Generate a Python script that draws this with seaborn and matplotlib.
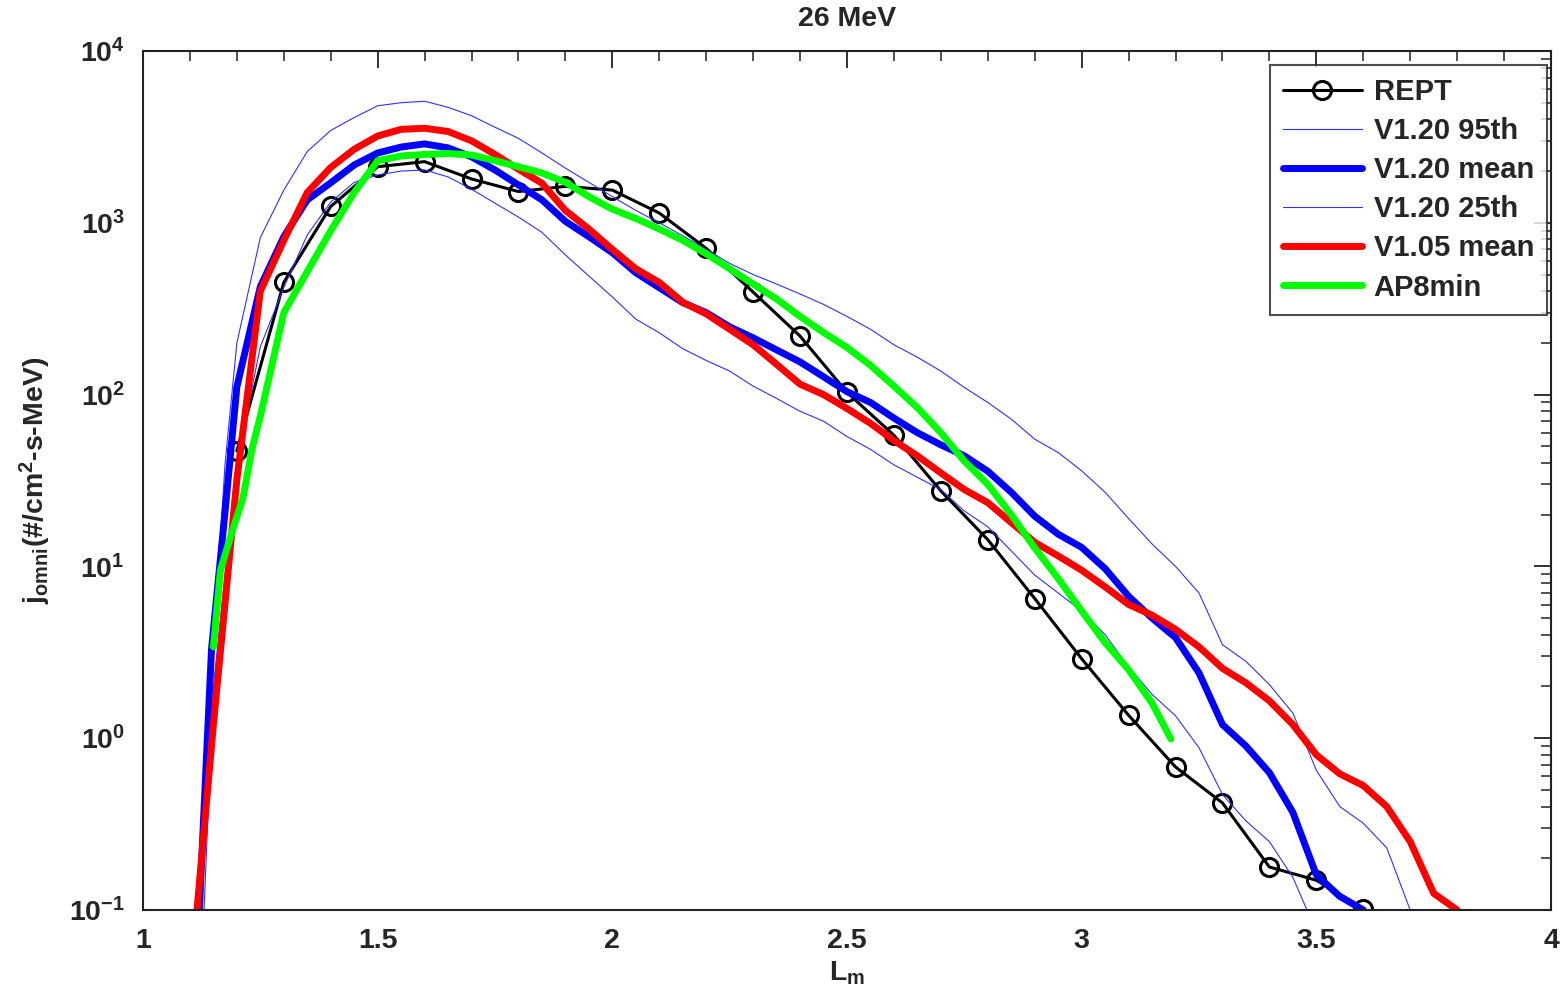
import numpy as np
import seaborn as sns
import matplotlib.pyplot as plt
from matplotlib.ticker import MultipleLocator, LogLocator, FixedLocator, FixedFormatter, NullFormatter, FuncFormatter

# REPT measurements
rept_L = [1.2, 1.3, 1.4, 1.5, 1.6, 1.7, 1.8, 1.9, 2.0, 2.1, 2.2, 2.3, 2.4,
          2.5, 2.6, 2.7, 2.8, 2.9, 3.0, 3.1, 3.2, 3.3, 3.4, 3.5, 3.6]
rept_j = [47, 450, 1245, 2120, 2270, 1800, 1520, 1630, 1550, 1140, 710, 395, 219,
          103, 58, 27.5, 14.3, 6.5, 2.9, 1.36, 0.68, 0.42, 0.178, 0.149, 0.102]

# V1.20 95th percentile
p95_L = [1.115, 1.15, 1.175, 1.2, 1.25, 1.3, 1.35, 1.4, 1.45, 1.5, 1.55, 1.6, 1.65,
         1.7, 1.75, 1.8, 1.85, 1.9, 1.95, 2.0, 2.05, 2.1, 2.15, 2.2, 2.25, 2.3,
         2.35, 2.4, 2.45, 2.5, 2.55, 2.6, 2.65, 2.7, 2.75, 2.8, 2.85, 2.9, 2.95,
         3.0, 3.05, 3.1, 3.15, 3.2, 3.25, 3.3, 3.35, 3.4, 3.45, 3.5, 3.55, 3.6,
         3.65, 3.7]
p95_j = [0.1, 3.5, 40, 200, 820, 1550, 2600, 3450, 4100, 4800, 5000, 5100, 4700,
         4200, 3600, 3100, 2550, 2080, 1720, 1420, 1180, 1000, 840, 700, 580, 500,
         440, 385, 335, 285, 240, 195, 165, 137, 110, 90, 72, 55, 46,
         36, 27, 19, 13.5, 10, 7.0, 3.5, 2.8, 2.05, 1.4, 0.65, 0.4, 0.32,
         0.23, 0.1]

# V1.20 mean
mean120_L = [1.12, 1.146, 1.177, 1.2, 1.25, 1.3, 1.35, 1.4, 1.45, 1.5, 1.55, 1.6, 1.65,
             1.7, 1.75, 1.8, 1.85, 1.9, 1.95, 2.0, 2.05, 2.1, 2.15, 2.2, 2.25, 2.3,
             2.35, 2.4, 2.45, 2.5, 2.55, 2.6, 2.65, 2.7, 2.75, 2.8, 2.85, 2.9, 2.95,
             3.0, 3.05, 3.1, 3.15, 3.2, 3.25, 3.3, 3.35, 3.4, 3.45, 3.5, 3.55, 3.6]
mean120_j = [0.1, 3.3, 24, 111, 425, 830, 1360, 1710, 2170, 2550, 2760, 2880, 2730,
             2420, 2030, 1660, 1360, 1020, 830, 670, 512, 419, 343, 300, 248, 214,
             182, 155, 127, 104, 90, 73, 60, 51, 44, 35.8, 27, 19.6, 15.4,
             12.9, 9.7, 6.7, 5.0, 3.85, 2.4, 1.2, 0.9, 0.63, 0.37, 0.16, 0.12, 0.1]

# V1.20 25th percentile
p25_L = [1.13, 1.15, 1.2, 1.25, 1.3, 1.35, 1.4, 1.45, 1.5, 1.55, 1.6, 1.65,
         1.7, 1.75, 1.8, 1.85, 1.9, 1.95, 2.0, 2.05, 2.1, 2.15, 2.2, 2.25, 2.3,
         2.35, 2.4, 2.45, 2.5, 2.55, 2.6, 2.65, 2.7, 2.75, 2.8, 2.85, 2.9, 2.95,
         3.0, 3.05, 3.1, 3.15, 3.2, 3.25, 3.3, 3.35, 3.4, 3.45, 3.48]
p25_j = [0.1, 2.0, 40, 190, 420, 850, 1320, 1720, 1900, 2000, 2030, 1850,
         1570, 1300, 1080, 880, 650, 490, 370, 275, 229, 185, 158, 137, 112,
         95, 80, 70, 57, 48, 39, 33, 28, 21, 17, 12.3, 8.9, 7.0,
         5.5, 4.0, 2.6, 1.8, 1.35, 0.88, 0.47, 0.33, 0.25, 0.155, 0.1]

# V1.05 mean
mean105_L = [1.115, 1.15, 1.2, 1.25, 1.3, 1.35, 1.4, 1.45, 1.5, 1.55, 1.6, 1.65,
             1.7, 1.75, 1.8, 1.85, 1.9, 1.95, 2.0, 2.05, 2.1, 2.15, 2.2, 2.25, 2.3,
             2.35, 2.4, 2.45, 2.5, 2.55, 2.6, 2.65, 2.7, 2.75, 2.8, 2.85, 2.9, 2.95,
             3.0, 3.05, 3.1, 3.15, 3.2, 3.25, 3.3, 3.35, 3.4, 3.45, 3.5, 3.55, 3.6,
             3.65, 3.7, 3.75, 3.8]
mean105_j = [0.1, 1.2, 32, 400, 790, 1500, 2100, 2680, 3200, 3500, 3550, 3400,
             3000, 2500, 2050, 1700, 1180, 920, 700, 540, 450, 345, 295, 240, 195,
             150, 115, 100, 83, 68, 54, 44, 35, 28, 23.5, 18, 13.8, 11.5,
             9.5, 7.6, 6.0, 5.2, 4.3, 3.4, 2.55, 2.1, 1.65, 1.2, 0.8, 0.62, 0.53,
             0.40, 0.25, 0.125, 0.1]

# AP8min
ap8_L = [1.15, 1.165, 1.19, 1.213, 1.232, 1.25, 1.3, 1.35, 1.4, 1.45, 1.5, 1.55, 1.6,
         1.65, 1.7, 1.75, 1.8, 1.85, 1.9, 1.95, 2.0, 2.05, 2.1, 2.15, 2.2, 2.25,
         2.3, 2.35, 2.4, 2.45, 2.5, 2.55, 2.6, 2.65, 2.7, 2.75, 2.8, 2.85, 2.9,
         2.95, 3.0, 3.05, 3.1, 3.15, 3.19]
ap8_j = [3.4, 9.5, 16, 25, 48, 75, 300, 520, 900, 1500, 2300, 2450, 2500,
         2530, 2480, 2300, 2120, 1950, 1720, 1420, 1200, 1060, 920, 790, 660, 540,
         440, 360, 285, 230, 188, 148, 112, 84, 60, 41, 30, 20, 12.8,
         8.5, 5.5, 3.6, 2.5, 1.6, 0.99]

x_ticks = [1, 1.5, 2, 2.5, 3, 3.5, 4]
y_ticks = [1e-1, 1e0, 1e1, 1e2, 1e3, 1e4]
y_tick_labels = [r'$\mathbf{10^{-1}}$', r'$\mathbf{10^{0}}$', r'$\mathbf{10^{1}}$',
                 r'$\mathbf{10^{2}}$', r'$\mathbf{10^{3}}$', r'$\mathbf{10^{4}}$']

sns.set_style("white")
plt.rcParams['font.family'] = ['Liberation Sans', 'DejaVu Sans']
plt.rcParams['font.weight'] = 'bold'
plt.rcParams['mathtext.fontset'] = 'custom'
plt.rcParams['mathtext.bf'] = 'Liberation Sans:bold'
plt.rcParams['mathtext.rm'] = 'Liberation Sans:bold'
plt.rcParams['mathtext.it'] = 'Liberation Sans:bold'

dpi = 100
fig = plt.figure(figsize=(1564 / dpi, 1001 / dpi), dpi=dpi)
ax = fig.add_axes([143 / 1564, 1 - 910 / 1001, 1408 / 1564, 859 / 1001])

sns.lineplot(x=rept_L, y=rept_j, ax=ax, color='black', lw=2.2, marker='o',
             markersize=13, markerfacecolor='none', markeredgecolor='black',
             markeredgewidth=2.2, label='REPT')
sns.lineplot(x=p95_L, y=p95_j, ax=ax, color='#3030ff', lw=0.8, label='V1.20 95th')
sns.lineplot(x=mean120_L, y=mean120_j, ax=ax, color='#0000ff', lw=5, label='V1.20 mean')
sns.lineplot(x=p25_L, y=p25_j, ax=ax, color='#3030ff', lw=0.8, label='V1.20 25th')
sns.lineplot(x=mean105_L, y=mean105_j, ax=ax, color='#ff0000', lw=5, label='V1.05 mean')
sns.lineplot(x=ap8_L, y=ap8_j, ax=ax, color='#00ff00', lw=5, label='AP8min')

ax.set_yscale('log')
ax.set_xlim(1, 4)
ax.set_ylim(1e-1, 1e4)

ax.xaxis.set_major_locator(FixedLocator(x_ticks))
ax.xaxis.set_major_formatter(FuncFormatter(lambda v, p: '%g' % v))
ax.xaxis.set_minor_locator(MultipleLocator(0.1))
ax.yaxis.set_major_locator(FixedLocator(y_ticks))
ax.yaxis.set_major_formatter(FixedFormatter(y_tick_labels))
ax.yaxis.set_minor_locator(LogLocator(base=10, subs=np.arange(2, 10), numticks=20))
ax.yaxis.set_minor_formatter(NullFormatter())

ax.tick_params(which='both', direction='in', top=True, right=True, color='#222222')
ax.tick_params(which='major', length=12, width=1.3, labelsize=20.5, pad=13)
ax.tick_params(which='minor', length=7, width=1.1)
for s in ax.spines.values():
    s.set_linewidth(1.5)
    s.set_color('#222222')

ax.set_title('26 MeV', fontsize=20.5, fontweight='bold', pad=18)
ax.set_xlabel(r'L$_\mathbf{m}$', fontsize=20.5, fontweight='bold', labelpad=4)
ax.set_ylabel(r'j$_\mathbf{omni}$(#/cm$^\mathbf{2}$-s-MeV)', fontsize=20.5,
              fontweight='bold')
ax.yaxis.set_label_coords(-0.064, 0.5)

leg = ax.legend(loc='upper right', bbox_to_anchor=(1 - 4 / 1408, 1 - 14 / 859),
                borderaxespad=0, fontsize=21, frameon=True, fancybox=False,
                handlelength=2.7, handletextpad=0.4, labelspacing=0.38,
                borderpad=0.45)
leg.get_frame().set_edgecolor('#222222')
leg.get_frame().set_linewidth(1.5)

fig.savefig('out.png', dpi=dpi)
